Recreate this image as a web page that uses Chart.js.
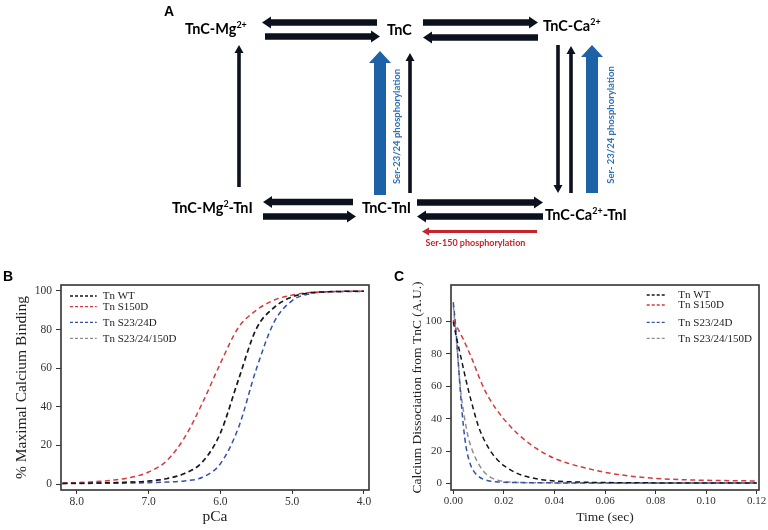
<!DOCTYPE html>
<html>
<head>
<meta charset="utf-8">
<script src="https://cdn.jsdelivr.net/npm/chart.js@4.4.1/dist/chart.umd.min.js"></script>
<style>
  html,body{margin:0;padding:0;background:#fff;}
  body{width:768px;height:530px;position:relative;overflow:hidden;}
  canvas{position:absolute;}
</style>
</head>
<body>
<canvas id="cA" width="768" height="270" style="left:0;top:0;width:768px;height:270px"></canvas>
<canvas id="cB" width="390" height="260" style="left:0;top:270px;width:390px;height:260px"></canvas>
<canvas id="cC" width="378" height="260" style="left:390px;top:270px;width:378px;height:260px"></canvas>
<script>
// ---------------- DATA ----------------
const seriesLabels = ['Tn WT', 'Tn S150D', 'Tn S23/24D', 'Tn S23/24/150D'];

// Panel B: % maximal calcium binding vs pCa
const pCa = [8.2, 8.0, 7.75, 7.5, 7.25, 7.0, 6.75, 6.5, 6.25, 6.0, 5.75, 5.5, 5.25, 5.0, 4.75, 4.5, 4.25, 4.0];
const bindWT       = [0.3, 0.4, 0.5, 0.7, 1.0, 1.5, 2.8, 5.5, 11.5, 26.5, 54, 80.5, 91.5, 97, 99.1, 99.6, 99.8, 99.8];
const bindS150D    = [0.5, 0.7, 1.2, 2.0, 3.4, 6.2, 12, 24, 42, 62.5, 81, 90, 95.3, 97.9, 99.2, 99.6, 99.8, 99.8];
const bindS2324D   = [0.3, 0.3, 0.35, 0.4, 0.5, 0.7, 1.0, 1.6, 3.5, 10.5, 29, 59.5, 84, 95, 98.6, 99.5, 99.7, 99.8];
const bindS2324150 = [0.3, 0.4, 0.5, 0.7, 1.0, 1.5, 2.7, 5.3, 11.2, 26, 53.5, 80, 91.5, 97, 99.1, 99.6, 99.8, 99.8];
const pCaTicks = [8, 7, 6, 5, 4];
const bindTicks = [0, 20, 40, 60, 80, 100];

// Panel C: calcium dissociation from TnC vs time
const timeSec = [0, 0.001, 0.002, 0.003, 0.004, 0.005, 0.006, 0.0075, 0.01, 0.0125, 0.015, 0.0175, 0.02, 0.025, 0.03, 0.035, 0.04, 0.045, 0.05, 0.055, 0.06, 0.07, 0.08, 0.09, 0.10, 0.11, 0.12];
const dissWT       = [100, 92, 85, 78, 71, 64, 57.5, 48.5, 35, 26, 19.3, 14.5, 11, 6.4, 3.8, 2.3, 1.5, 1.05, 0.8, 0.6, 0.5, 0.4, 0.3, 0.3, 0.25, 0.2, 0.2];
const dissS150D    = [101, 98, 95, 92, 89, 85.5, 82, 76.5, 66.5, 57.5, 50.5, 44.8, 39.7, 31.3, 24.7, 19.5, 15.4, 12.6, 10.4, 8.5, 6.8, 4.5, 3.1, 2.3, 1.9, 1.65, 1.5];
const dissS2324D   = [112, 96, 74, 53, 35.5, 23, 15.5, 9, 4.3, 2.2, 1.3, 0.9, 0.65, 0.5, 0.4, 0.35, 0.3, 0.3, 0.3, 0.3, 0.3, 0.3, 0.3, 0.3, 0.3, 0.3, 0.3];
const dissS2324150 = [110, 93, 74, 56, 45, 35.5, 28, 20.5, 12, 6.5, 3.6, 2.0, 1.2, 0.6, 0.4, 0.35, 0.3, 0.25, 0.2, 0.2, 0.2, 0.2, 0.2, 0.2, 0.2, 0.2, 0.2];
const timeTicks = [0, 0.02, 0.04, 0.06, 0.08, 0.10, 0.12];
const dissTicks = [0, 20, 40, 60, 80, 100];

// Panel A: reaction scheme (labels and arrows)
const schemeLabels = [
  {segs:[['TnC-Mg'],['2+',1]], x:185, y:34},
  {segs:[['TnC']], x:387, y:35},
  {segs:[['TnC-Ca'],['2+',1]], x:543, y:31},
  {segs:[['TnC-Mg'],['2',1],['-TnI']], x:172, y:213},
  {segs:[['TnC-TnI']], x:362, y:213},
  {segs:[['TnC-Ca'],['2+',1],['-TnI']], x:545, y:220}
];
const schemeArrows = [
  // [x1,y1,x2,y2, kind]
  [377,22.5,262,22.5,'k'], [265,36.5,380,36.5,'k'],
  [423,22.5,538,22.5,'k'], [538,37.5,423,37.5,'k'],
  [353,202,263,202,'k'], [263,216.5,356,216.5,'k'],
  [417,202.5,543,202.5,'k'], [543,216.5,417,216.5,'k'],
  [537,231.5,422,231.5,'r'],
  [239,187,239,45,'kv'], [410,193,410,53,'kv'],
  [558,45,558,193,'kv'], [571,193,571,46,'kv'],
  [380,195,380,51,'b'], [592,193,592,45,'b']
];
const schemeNotes = [
  {text:'Ser-150 phosphorylation', x:475.5, y:243, rot:0, color:'#c4252b'},
  {text:'Ser-23/24 phosphorylation', x:396.5, y:126.5, rot:-1, color:'#2f72b8'},
  {text:'Ser- 23/24 phosphorylation', x:610.5, y:125, rot:-1, color:'#2f72b8'}
];

// ---------------- STYLES ----------------
const colors = ['#161616', '#d8383a', '#3551a8', '#8f8f8f'];
const arrowStyle = {
  k:  {shaft:6.5, head:12, len:9, color:'#0b111d'},
  kv: {shaft:3.6, head:9, len:8, color:'#0b111d'},
  r:  {shaft:3, head:8, len:7, color:'#c4252b'},
  b:  {shaft:12, head:22, len:12, color:'#1d62a6'}
};
const SANS = 'Lato, "Open Sans", "Liberation Sans", sans-serif';
const SERIF = '"Liberation Serif", "DejaVu Serif", serif';

// ---------------- PANEL A ----------------
function drawArrow(ctx, x1, y1, x2, y2, st) {
  const dx = x2 - x1, dy = y2 - y1, L = Math.hypot(dx, dy);
  const ux = dx / L, uy = dy / L, nx = -uy, ny = ux;
  const bx = x2 - ux * st.len, by = y2 - uy * st.len;
  const s = st.shaft / 2, h = st.head / 2;
  ctx.beginPath();
  ctx.moveTo(x1 + nx * s, y1 + ny * s);
  ctx.lineTo(bx + nx * s, by + ny * s);
  ctx.lineTo(bx + nx * h, by + ny * h);
  ctx.lineTo(x2, y2);
  ctx.lineTo(bx - nx * h, by - ny * h);
  ctx.lineTo(bx - nx * s, by - ny * s);
  ctx.lineTo(x1 - nx * s, y1 - ny * s);
  ctx.closePath();
  ctx.fillStyle = st.color;
  ctx.fill();
}
const schemePlugin = {
  id: 'scheme',
  afterDraw(chart) {
    const ctx = chart.ctx, xs = chart.scales.x, ys = chart.scales.y;
    const X = v => xs.getPixelForValue(v), Y = v => ys.getPixelForValue(v);
    ctx.save();
    schemeArrows.forEach(a => drawArrow(ctx, X(a[0]), Y(a[1]), X(a[2]), Y(a[3]), arrowStyle[a[4]]));
    ctx.fillStyle = '#000';
    ctx.textBaseline = 'alphabetic';
    ctx.textAlign = 'left';
    const size = 14.5;
    schemeLabels.forEach(l => {
      let cx = X(l.x);
      l.segs.forEach(s => {
        const sup = !!s[1];
        ctx.font = 'bold ' + (sup ? size * 0.62 : size) + 'px ' + SANS;
        ctx.fillText(s[0], cx, Y(l.y) - (sup ? size * 0.38 : 0));
        cx += ctx.measureText(s[0]).width;
      });
    });
    schemeNotes.forEach(n => {
      ctx.save();
      ctx.translate(X(n.x), Y(n.y));
      if (n.rot) ctx.rotate(-Math.PI / 2);
      ctx.fillStyle = n.color;
      ctx.font = 'bold ' + (n.rot ? 9.5 : 9) + 'px ' + SANS;
      ctx.textAlign = 'center';
      ctx.textBaseline = 'middle';
      ctx.fillText(n.text, 0, 0);
      ctx.restore();
    });
    ctx.fillStyle = '#000';
    ctx.font = 'bold 14px "Liberation Sans", Arial, sans-serif';
    ctx.textAlign = 'center';
    ctx.textBaseline = 'middle';
    ctx.fillText('A', X(169), Y(12.5));
    ctx.restore();
  }
};
new Chart(document.getElementById('cA'), {
  type: 'scatter',
  data: {datasets: []},
  options: {
    responsive: false, animation: false, devicePixelRatio: 1,
    layout: {padding: 0},
    plugins: {legend: {display: false}, tooltip: {enabled: false}},
    scales: {
      x: {type: 'linear', min: 0, max: 768, display: false},
      y: {type: 'linear', min: 0, max: 270, reverse: true, display: false}
    }
  },
  plugins: [schemePlugin]
});

// ---------------- PANELS B & C ----------------
function makePanel(id, cfg) {
  const datasets = cfg.series.map((vals, i) => ({
    label: seriesLabels[i],
    data: cfg.xs.map((x, j) => ({x: x, y: vals[j]})),
    borderColor: colors[i],
    borderWidth: 1.5,
    borderDash: [5, 3.5],
    pointRadius: 0,
    fill: false,
    cubicInterpolationMode: 'monotone'
  }));
  const boxAndLegend = {
    id: 'boxLegend',
    afterDraw(chart) {
      const ctx = chart.ctx, a = chart.chartArea;
      ctx.save();
      ctx.strokeStyle = '#333';
      ctx.lineWidth = 1.6;
      ctx.setLineDash([]);
      ctx.strokeRect(a.left, a.top, a.right - a.left, a.bottom - a.top);
      ctx.font = cfg.legendFont + 'px ' + SERIF;
      ctx.textAlign = 'left';
      ctx.textBaseline = 'middle';
      chart.data.datasets.forEach((ds, i) => {
        const y = cfg.legendRows[i];
        ctx.strokeStyle = ds.borderColor;
        ctx.lineWidth = 1.3;
        ctx.setLineDash([3, 2]);
        ctx.beginPath();
        ctx.moveTo(cfg.legendLine[0], y);
        ctx.lineTo(cfg.legendLine[1], y);
        ctx.stroke();
        ctx.fillStyle = '#222';
        ctx.fillText(ds.label, cfg.legendText, y + 0.5);
      });
      ctx.setLineDash([]);
      ctx.fillStyle = '#000';
      ctx.font = 'bold 14px "Liberation Sans", Arial, sans-serif';
      ctx.textAlign = 'center';
      ctx.fillText(cfg.letter, cfg.letterX, 7.5);
      ctx.restore();
    }
  };
  new Chart(document.getElementById(id), {
    type: 'line',
    data: {datasets: datasets},
    options: {
      responsive: false, animation: false, devicePixelRatio: 1,
      layout: {padding: {top: 15, right: cfg.padRight, left: 0, bottom: 0}},
      plugins: {legend: {display: false}, tooltip: {enabled: false}},
      scales: {
        x: {
          type: 'linear', reverse: cfg.reverse, min: cfg.xMin, max: cfg.xMax,
          afterBuildTicks: s => { s.ticks = cfg.xTicks.map(v => ({value: v})); },
          afterFit: s => { s.height = 40; },
          ticks: {
            callback: v => Number(v).toFixed(cfg.xDec), color: '#333',
            font: {family: SERIF, size: cfg.tickFont}, padding: 1, maxRotation: 0, autoSkip: false
          },
          grid: {drawOnChartArea: false, drawTicks: true, tickLength: 4, color: '#333', lineWidth: 1},
          border: {display: false},
          title: {display: true, text: cfg.xTitle, color: '#222',
                  font: {family: SERIF, size: cfg.titleFont, lineHeight: 1.2},
                  padding: {top: 0, bottom: cfg.xTitlePad}}
        },
        y: {
          type: 'linear', min: cfg.yMin, max: cfg.yMax,
          afterBuildTicks: s => { s.ticks = cfg.yTicks.map(v => ({value: v})); },
          afterFit: s => { s.width = 61; },
          ticks: {color: '#333', font: {family: SERIF, size: cfg.tickFont}, padding: 4},
          grid: {drawOnChartArea: false, drawTicks: true, tickLength: 5, color: '#333', lineWidth: 1},
          border: {display: false},
          title: {display: true, text: cfg.yTitle, color: '#222',
                  font: {family: SERIF, size: cfg.titleFont, lineHeight: 1.2},
                  padding: {top: cfg.yTitlePad, bottom: 0}}
        }
      }
    },
    plugins: [boxAndLegend]
  });
}

makePanel('cB', {
  xs: pCa, series: [bindWT, bindS150D, bindS2324D, bindS2324150],
  reverse: true, xMin: 3.93, xMax: 8.22, xTicks: pCaTicks, xDec: 1,
  yMin: -3.1, yMax: 103.1, yTicks: bindTicks,
  xTitle: 'pCa', yTitle: '% Maximal Calcium Binding',
  tickFont: 11.5, titleFont: 15.5, xTitlePad: 3.7, yTitlePad: 12.7, padRight: 21,
  legendFont: 11, legendRows: [26, 36.7, 52.3, 68.3], legendLine: [70, 96.7], legendText: 102.7,
  letter: 'B', letterX: 8
});
makePanel('cC', {
  xs: timeSec, series: [dissWT, dissS150D, dissS2324D, dissS2324150],
  reverse: false, xMin: -0.0009, xMax: 0.1209, xTicks: timeTicks, xDec: 2,
  yMin: -4.1, yMax: 122.6, yTicks: dissTicks,
  xTitle: 'Time (sec)', yTitle: 'Calcium Dissociation from TnC (A.U.)',
  tickFont: 11, titleFont: 13.5, xTitlePad: 4.9, yTitlePad: 18.9, padRight: 9,
  legendFont: 11, legendRows: [25, 35, 52.3, 68.3], legendLine: [256.7, 276.7], legendText: 288.3,
  letter: 'C', letterX: 9
});
</script>
</body>
</html>
